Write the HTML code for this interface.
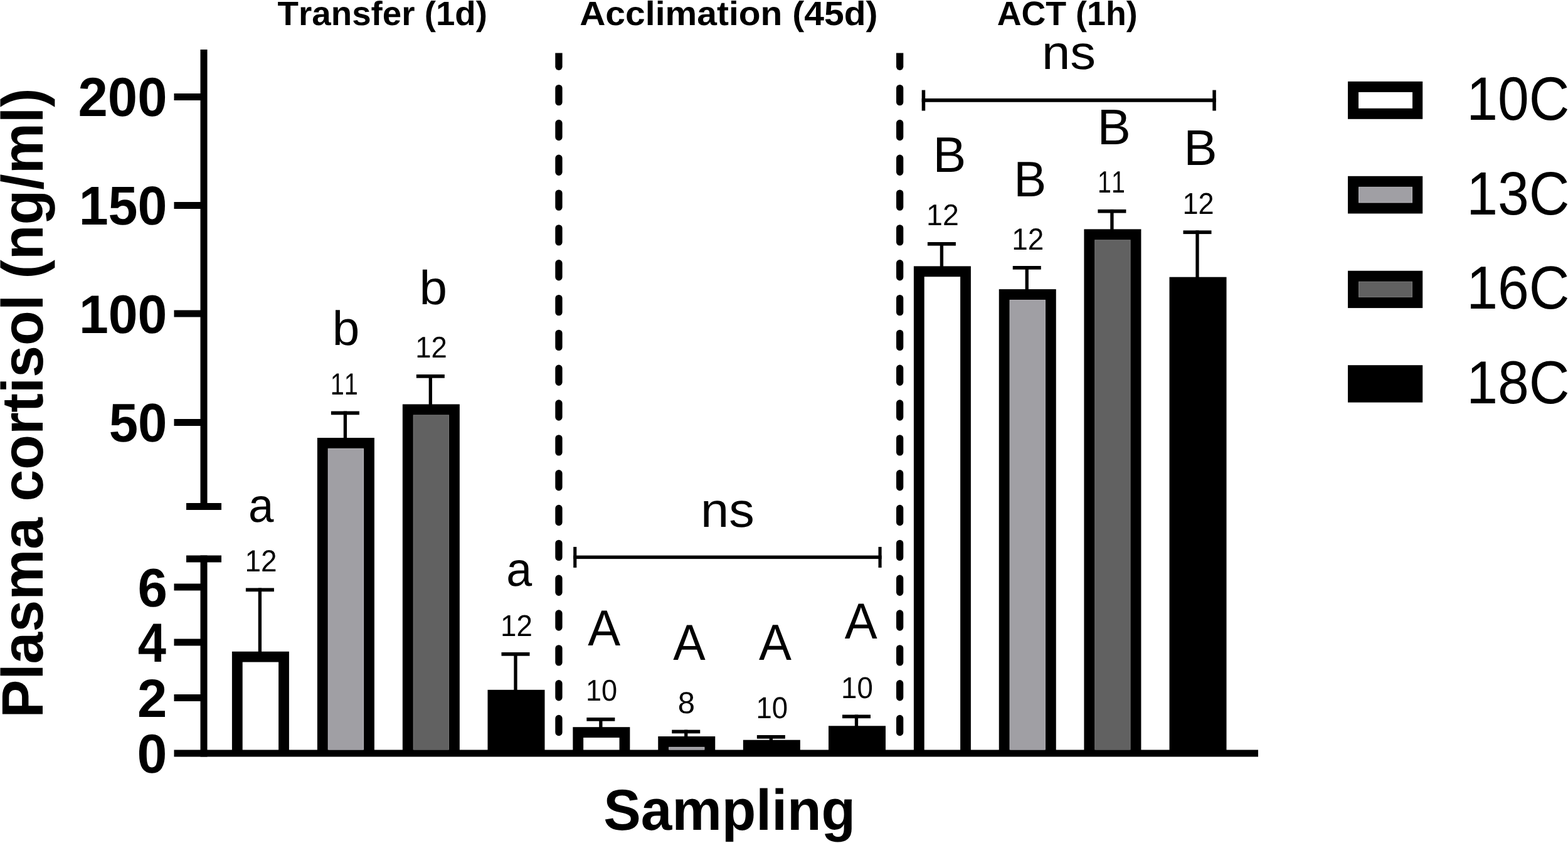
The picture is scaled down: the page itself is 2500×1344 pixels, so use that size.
<!DOCTYPE html>
<html><head><meta charset="utf-8"><title>Plasma cortisol</title>
<style>
html,body{margin:0;padding:0;background:#fff;}
body{width:2500px;height:1344px;overflow:hidden;}
svg{display:block;}
text{font-family:"Liberation Sans",Arial,sans-serif;font-kerning:none;fill:#000;}
</style></head><body>
<svg width="2500" height="1344" viewBox="0 0 2500 1344" shape-rendering="geometricPrecision" text-rendering="geometricPrecision">
<rect width="2500" height="1344" fill="#fff"/>
<rect x="319.50" y="79.00" width="11.00" height="734.00" fill="#000"/>
<rect x="297.00" y="802.00" width="56.00" height="11.00" fill="#000"/>
<rect x="297.00" y="885.50" width="56.00" height="11.00" fill="#000"/>
<rect x="319.50" y="885.50" width="11.00" height="321.00" fill="#000"/>
<rect x="277.50" y="149.00" width="43.00" height="11.00" fill="#000"/>
<rect x="277.50" y="322.00" width="43.00" height="11.00" fill="#000"/>
<rect x="277.50" y="494.50" width="43.00" height="11.00" fill="#000"/>
<rect x="277.50" y="668.00" width="43.00" height="11.00" fill="#000"/>
<rect x="277.50" y="930.50" width="43.00" height="11.00" fill="#000"/>
<rect x="277.50" y="1018.50" width="43.00" height="11.00" fill="#000"/>
<rect x="277.50" y="1107.00" width="43.00" height="11.00" fill="#000"/>
<rect x="277.50" y="1195.50" width="1728.50" height="11.00" fill="#000"/>
<rect x="411.75" y="937.50" width="5.30" height="103.25" fill="#000"/>
<rect x="391.90" y="937.50" width="45.00" height="5.70" fill="#000"/>
<rect x="369.90" y="1038.75" width="91.00" height="157.75" fill="#000"/>
<rect x="386.70" y="1055.55" width="57.40" height="139.95" fill="#fff"/>
<rect x="547.75" y="655.60" width="5.30" height="44.40" fill="#000"/>
<rect x="527.90" y="655.60" width="45.00" height="5.70" fill="#000"/>
<rect x="505.90" y="698.00" width="91.00" height="498.50" fill="#000"/>
<rect x="522.70" y="714.80" width="57.40" height="480.70" fill="#b3b2b7"/>
<rect x="523.90" y="716.00" width="55.00" height="479.50" fill="#a09fa4"/>
<rect x="683.70" y="597.00" width="5.30" height="49.50" fill="#000"/>
<rect x="663.85" y="597.00" width="45.00" height="5.70" fill="#000"/>
<rect x="641.85" y="644.50" width="91.00" height="552.00" fill="#000"/>
<rect x="658.65" y="661.30" width="57.40" height="534.20" fill="#747474"/>
<rect x="659.85" y="662.50" width="55.00" height="533.00" fill="#616161"/>
<rect x="819.35" y="1040.00" width="5.30" height="61.80" fill="#000"/>
<rect x="799.50" y="1040.00" width="45.00" height="5.70" fill="#000"/>
<rect x="777.50" y="1099.80" width="91.00" height="96.70" fill="#000"/>
<rect x="955.20" y="1144.00" width="5.30" height="17.20" fill="#000"/>
<rect x="935.35" y="1144.00" width="45.00" height="5.70" fill="#000"/>
<rect x="913.35" y="1159.20" width="91.00" height="37.30" fill="#000"/>
<rect x="930.15" y="1176.00" width="57.40" height="19.50" fill="#fff"/>
<rect x="1091.10" y="1163.60" width="5.30" height="12.40" fill="#000"/>
<rect x="1071.25" y="1163.60" width="45.00" height="5.70" fill="#000"/>
<rect x="1049.25" y="1174.00" width="91.00" height="22.50" fill="#000"/>
<rect x="1066.05" y="1190.80" width="57.40" height="4.70" fill="#b3b2b7"/>
<rect x="1067.25" y="1192.00" width="55.00" height="3.50" fill="#a09fa4"/>
<rect x="1226.70" y="1172.00" width="5.30" height="9.70" fill="#000"/>
<rect x="1206.85" y="1172.00" width="45.00" height="5.70" fill="#000"/>
<rect x="1184.85" y="1179.70" width="91.00" height="16.80" fill="#000"/>
<rect x="1362.85" y="1139.50" width="5.30" height="19.80" fill="#000"/>
<rect x="1343.00" y="1139.50" width="45.00" height="5.70" fill="#000"/>
<rect x="1321.00" y="1157.30" width="91.00" height="39.20" fill="#000"/>
<rect x="1498.75" y="386.00" width="5.30" height="40.40" fill="#000"/>
<rect x="1478.90" y="386.00" width="45.00" height="5.70" fill="#000"/>
<rect x="1456.90" y="424.40" width="91.00" height="772.10" fill="#000"/>
<rect x="1473.70" y="441.20" width="57.40" height="754.30" fill="#fff"/>
<rect x="1634.60" y="424.00" width="5.30" height="39.10" fill="#000"/>
<rect x="1614.75" y="424.00" width="45.00" height="5.70" fill="#000"/>
<rect x="1592.75" y="461.10" width="91.00" height="735.40" fill="#000"/>
<rect x="1609.55" y="477.90" width="57.40" height="717.60" fill="#b3b2b7"/>
<rect x="1610.75" y="479.10" width="55.00" height="716.40" fill="#a09fa4"/>
<rect x="1770.25" y="333.90" width="5.30" height="33.50" fill="#000"/>
<rect x="1750.40" y="333.90" width="45.00" height="5.70" fill="#000"/>
<rect x="1728.40" y="365.40" width="91.00" height="831.10" fill="#000"/>
<rect x="1745.20" y="382.20" width="57.40" height="813.30" fill="#747474"/>
<rect x="1746.40" y="383.40" width="55.00" height="812.10" fill="#616161"/>
<rect x="1906.35" y="367.40" width="5.30" height="76.30" fill="#000"/>
<rect x="1886.50" y="367.40" width="45.00" height="5.70" fill="#000"/>
<rect x="1864.50" y="441.70" width="91.00" height="754.80" fill="#000"/>
<path d="M885.30 84.5H896.60V106.35A5.65 5.65 0 0 1 885.30 106.35Z" fill="#000"/>
<path d="M890.95 140.55V162.65M890.95 196.38V218.48M890.95 252.21V274.31M890.95 308.04V330.14M890.95 363.87V385.97M890.95 419.70V441.80M890.95 475.53V497.63M890.95 531.36V553.46M890.95 587.19V609.29M890.95 643.02V665.12M890.95 698.85V720.95M890.95 754.68V776.78M890.95 810.51V832.61M890.95 866.34V888.44M890.95 922.17V944.27M890.95 978.00V1000.10M890.95 1033.83V1055.93M890.95 1089.66V1111.76M890.95 1145.49V1167.59" stroke="#000" stroke-width="11.3" stroke-linecap="round"/>
<path d="M1429.00 84.5H1440.30V106.35A5.65 5.65 0 0 1 1429.00 106.35Z" fill="#000"/>
<path d="M1434.65 140.55V162.65M1434.65 196.38V218.48M1434.65 252.21V274.31M1434.65 308.04V330.14M1434.65 363.87V385.97M1434.65 419.70V441.80M1434.65 475.53V497.63M1434.65 531.36V553.46M1434.65 587.19V609.29M1434.65 643.02V665.12M1434.65 698.85V720.95M1434.65 754.68V776.78M1434.65 810.51V832.61M1434.65 866.34V888.44M1434.65 922.17V944.27M1434.65 978.00V1000.10M1434.65 1033.83V1055.93M1434.65 1089.66V1111.76M1434.65 1145.49V1167.59" stroke="#000" stroke-width="11.3" stroke-linecap="round"/>
<rect x="914.20" y="885.60" width="491.40" height="5.50" fill="#000"/>
<rect x="914.20" y="871.90" width="5.10" height="33.10" fill="#000"/>
<rect x="1400.50" y="871.90" width="5.10" height="33.10" fill="#000"/>
<rect x="1469.70" y="156.95" width="469.10" height="5.80" fill="#000"/>
<rect x="1469.70" y="143.60" width="5.50" height="32.90" fill="#000"/>
<rect x="1933.30" y="143.60" width="5.50" height="32.90" fill="#000"/>
<rect x="2149.00" y="129.90" width="119.20" height="59.90" fill="#000"/>
<rect x="2166.00" y="146.90" width="86.00" height="25.90" fill="#fff"/>
<rect x="2149.00" y="280.80" width="119.20" height="59.70" fill="#000"/>
<rect x="2166.00" y="297.80" width="86.00" height="25.70" fill="#b3b2b7"/>
<rect x="2167.20" y="299.00" width="83.60" height="23.30" fill="#a09fa4"/>
<rect x="2149.00" y="431.70" width="119.20" height="59.40" fill="#000"/>
<rect x="2166.00" y="448.70" width="86.00" height="25.40" fill="#747474"/>
<rect x="2167.20" y="449.90" width="83.60" height="23.00" fill="#616161"/>
<rect x="2149.00" y="582.20" width="119.20" height="59.40" fill="#000"/>
<text transform="translate(442.59 39.92) scale(1.0157 1)" font-size="53.86" font-weight="bold">Transfer (1d)</text>
<text transform="translate(924.18 40.00) scale(1.0569 1)" font-size="53.96" font-weight="bold">Acclimation (45d)</text>
<text transform="translate(1589.66 40.00) scale(0.9965 1)" font-size="53.96" font-weight="bold">ACT (1h)</text>
<text transform="translate(124.55 185.14) scale(0.9715 1)" font-size="87.57" font-weight="bold">200</text>
<text transform="translate(125.69 358.40) scale(0.9674 1)" font-size="87.22" font-weight="bold">150</text>
<text transform="translate(125.95 531.16) scale(0.9735 1)" font-size="86.51" font-weight="bold">100</text>
<text transform="translate(173.69 704.40) scale(0.9598 1)" font-size="86.86" font-weight="bold">50</text>
<text transform="translate(219.38 966.66) scale(0.9864 1)" font-size="86.51" font-weight="bold">6</text>
<text transform="translate(219.77 1055.00) scale(0.9235 1)" font-size="87.94" font-weight="bold">4</text>
<text transform="translate(219.05 1143.00) scale(0.9910 1)" font-size="85.93" font-weight="bold">2</text>
<text transform="translate(218.59 1232.14) scale(0.9845 1)" font-size="87.57" font-weight="bold">0</text>
<text transform="translate(68.25 1144.61) rotate(-90) scale(0.9791 1)" font-size="93.22" font-weight="bold">Plasma cortisol (ng/ml)</text>
<text transform="translate(962.23 1322.72) scale(0.9710 1)" font-size="91.94" font-weight="bold">Sampling</text>
<text transform="translate(390.40 911.10) scale(0.9465 1)" font-size="48.55" font-weight="normal">12</text>
<text transform="translate(526.78 628.90) scale(0.8133 1)" font-size="48.69" font-weight="normal">11</text>
<text transform="translate(662.13 570.30) scale(0.9550 1)" font-size="47.69" font-weight="normal">12</text>
<text transform="translate(798.02 1013.80) scale(0.9535 1)" font-size="47.98" font-weight="normal">12</text>
<text transform="translate(933.96 1117.03) scale(0.9454 1)" font-size="47.74" font-weight="normal">10</text>
<text transform="translate(1080.87 1137.33) scale(1.0147 1)" font-size="48.30" font-weight="normal">8</text>
<text transform="translate(1205.53 1144.93) scale(0.9426 1)" font-size="48.30" font-weight="normal">10</text>
<text transform="translate(1341.02 1112.63) scale(0.9475 1)" font-size="48.16" font-weight="normal">10</text>
<text transform="translate(1477.06 358.70) scale(0.9771 1)" font-size="47.55" font-weight="normal">12</text>
<text transform="translate(1613.20 397.60) scale(0.9465 1)" font-size="48.55" font-weight="normal">12</text>
<text transform="translate(1750.11 307.10) scale(0.7999 1)" font-size="49.13" font-weight="normal">11</text>
<text transform="translate(1885.46 341.00) scale(0.9437 1)" font-size="47.83" font-weight="normal">12</text>
<text transform="translate(395.92 831.76) scale(0.9540 1)" font-size="76.12" font-weight="normal">a</text>
<text transform="translate(529.66 550.25) scale(1.0174 1)" font-size="76.94" font-weight="normal">b</text>
<text transform="translate(668.54 484.65) scale(1.0479 1)" font-size="76.39" font-weight="normal">b</text>
<text transform="translate(807.27 933.85) scale(0.9645 1)" font-size="76.30" font-weight="normal">a</text>
<text transform="translate(937.25 1029.30) scale(0.9629 1)" font-size="80.82" font-weight="normal">A</text>
<text transform="translate(1073.35 1051.50) scale(0.9572 1)" font-size="80.67" font-weight="normal">A</text>
<text transform="translate(1210.05 1051.50) scale(0.9595 1)" font-size="81.11" font-weight="normal">A</text>
<text transform="translate(1346.65 1017.90) scale(0.9629 1)" font-size="80.82" font-weight="normal">A</text>
<text transform="translate(1487.41 274.20) scale(0.9949 1)" font-size="79.51" font-weight="normal">B</text>
<text transform="translate(1616.30 313.10) scale(0.9789 1)" font-size="79.65" font-weight="normal">B</text>
<text transform="translate(1749.43 229.80) scale(0.9994 1)" font-size="80.09" font-weight="normal">B</text>
<text transform="translate(1887.23 263.20) scale(1.0030 1)" font-size="79.80" font-weight="normal">B</text>
<text transform="translate(1117.11 839.54) scale(1.0438 1)" font-size="77.76" font-weight="normal">ns</text>
<text transform="translate(1660.99 110.36) scale(1.0705 1)" font-size="76.12" font-weight="normal">ns</text>
<text transform="translate(2338.28 190.95) scale(0.9173 1)" font-size="97.60" font-weight="normal">10C</text>
<text transform="translate(2338.28 341.85) scale(0.9199 1)" font-size="97.32" font-weight="normal">13C</text>
<text transform="translate(2338.28 492.35) scale(0.9226 1)" font-size="97.03" font-weight="normal">16C</text>
<text transform="translate(2338.28 643.06) scale(0.9253 1)" font-size="96.75" font-weight="normal">18C</text>
</svg>
</body></html>
